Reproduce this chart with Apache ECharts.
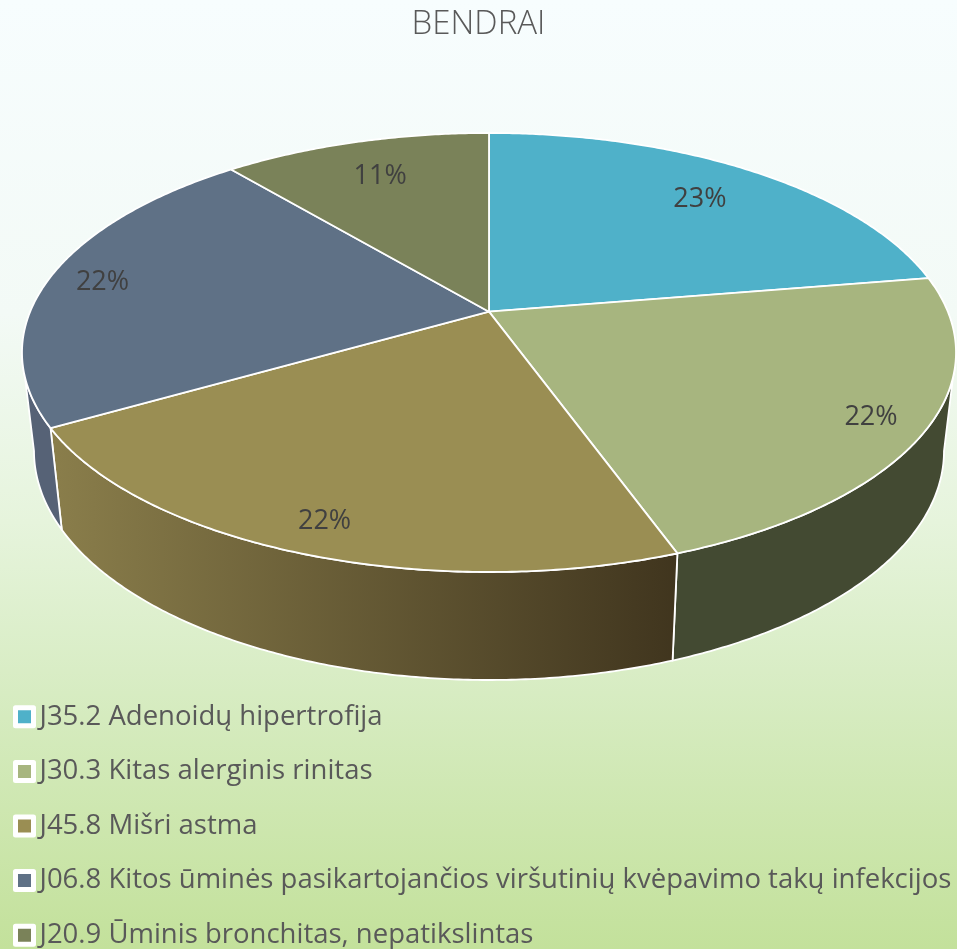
<!DOCTYPE html>
<html><head><meta charset="utf-8">
<style>html,body{margin:0;padding:0;background:#fff}#c{width:957px;height:949px}</style>
<script src="https://cdn.jsdelivr.net/npm/echarts@6/dist/echarts.min.js"></script>
</head><body><div id="c"></div>
<script>
const titleText = 'BENDRAI';
const categories = [
  'J35.2 Adenoidų hipertrofija',
  'J30.3 Kitas alerginis rinitas',
  'J45.8 Mišri astma',
  'J06.8 Kitos ūminės pasikartojančios viršutinių kvėpavimo takų infekcijos',
  'J20.9 Ūminis bronchitas, nepatikslintas'
];
const values = [22.4, 22.1, 22.2, 22.2, 11.1];
const topColors = ['#4fb1c9', '#a7b57f', '#9a8e53', '#5f7186', '#7a8259'];
const wallLeftColors = ['#3a7f90', '#434a32', '#8a7e4b', '#566276', '#565c3e'];
const wallRightColors = ['#3a7f90', '#434a32', '#40351e', '#566276', '#565c3e'];
const labelRadii = [0.79, 0.885, 0.88, 0.88, 0.79];

const TOP = {cx: 489, cy: 352.5, rx: 467, ry: 219.5};
const BOT = {cx: 489, cy: 451, rx: 455, ry: 229};
const TILT = -0.186;
const total = values.reduce((a, b) => a + b, 0);
const starts = [];
values.reduce((acc, v, i) => { starts[i] = acc; return acc + v; }, 0);

// whole-number percentages that add up to 100 (largest remainder)
const shares = values.map(v => v / total * 100);
const percents = shares.map(Math.floor);
const order = shares.map((s, i) => [s - Math.floor(s), i]).sort((a, b) => b[0] - a[0]);
for (let k = 0, left = 100 - percents.reduce((a, b) => a + b, 0); k < left; k++) percents[order[k][1]]++;

function norm(deg) {
  const r = deg * Math.PI / 180, u = Math.sin(r), v = -Math.cos(r);
  const d = 1 + TILT * v;
  return [u * Math.sqrt(1 - TILT * TILT) / d, (v + TILT) / d];
}
function onEllipse(E, n) {
  return [E.cx + E.rx * n[0], E.cy + E.ry * n[1]];
}
function polar(deg, r) {
  const a = deg * Math.PI / 180, u = r * Math.sin(a), v = -r * Math.cos(a);
  const d = 1 + TILT * v;
  return [TOP.cx + TOP.rx * u * Math.sqrt(1 - TILT * TILT) / d, TOP.cy + TOP.ry * (v + TILT) / d];
}
const frontStart = Math.acos(TILT) * 180 / Math.PI;
const frontEnd = 360 - frontStart;

function arc(a0, a1, E) {
  const n = Math.max(2, Math.ceil(Math.abs(a1 - a0) * 2)), pts = [];
  for (let i = 0; i <= n; i++) pts.push(onEllipse(E, norm(a0 + (a1 - a0) * i / n)));
  return pts;
}

function renderSlice(i) {
  return function () {
    const a0 = starts[i] / total * 360, a1 = (starts[i] + values[i]) / total * 360;
    const children = [];
    const w0 = Math.max(a0, frontStart), w1 = Math.min(a1, frontEnd);
    if (w1 > w0) {
      const t = arc(w0, w1, TOP), b = arc(w0, w1, BOT);
      const xs = t.concat(b).map(p => p[0]);
      children.push({
        type: 'polygon', z2: 1,
        shape: {points: t.concat(b.slice().reverse())},
        style: {
          fill: new echarts.graphic.LinearGradient(Math.min.apply(null, xs), 0, Math.max.apply(null, xs), 0,
            [{offset: 0, color: wallLeftColors[i]}, {offset: 1, color: wallRightColors[i]}], true),
          stroke: '#ffffff', lineWidth: 1.8, lineJoin: 'round'
        }
      });
    }
    const apex = onEllipse(TOP, [0, TILT]);
    children.push({
      type: 'polygon', z2: 2,
      shape: {points: [apex].concat(arc(a0, a1, TOP))},
      style: {fill: topColors[i], stroke: '#ffffff', lineWidth: 1.8, lineJoin: 'round'}
    });
    const lp = polar((a0 + a1) / 2, labelRadii[i]);
    children.push({
      type: 'text', z2: 3, x: lp[0], y: lp[1] + 2.5,
      style: {
        text: percents[i] + '%',
        fill: '#404040', font: '27px "Open Sans"', align: 'center', verticalAlign: 'middle'
      }
    });
    return {type: 'group', children};
  };
}

const chart = echarts.init(document.getElementById('c'), null, {renderer: 'canvas'});
chart.setOption({
  animation: false,
  backgroundColor: new echarts.graphic.LinearGradient(0, 0, 0, 1, [
    {offset: 0, color: '#f7fdfe'},
    {offset: 0.33, color: '#f3faf6'},
    {offset: 0.55, color: '#e6f4dc'},
    {offset: 0.73, color: '#d7ecc2'},
    {offset: 1, color: '#c3e19b'}
  ]),
  title: {
    text: titleText, left: 'center', top: 3,
    textStyle: {color: '#595959', fontFamily: 'Open Sans', fontWeight: 300, fontSize: 33}
  },
  legend: {
    orient: 'vertical', left: 13, top: 698, height: 320, width: 944,
    padding: 0, itemGap: 17, itemWidth: 18, itemHeight: 18,
    icon: 'rect',
    itemStyle: {borderColor: '#ffffff', borderWidth: 5, borderJoin: 'round'},
    textStyle: {color: '#595959', fontFamily: 'Open Sans', fontSize: 27.5, lineHeight: 37.6, padding: [0, 0, 0, 1]},
    selectedMode: false,
    data: categories
  },
  series: categories.map((name, i) => ({
    type: 'custom', name, coordinateSystem: 'none', z: 2,
    itemStyle: {color: topColors[i]},
    silent: true,
    renderItem: renderSlice(i),
    data: [[values[i]]]
  }))
});
</script></body></html>
